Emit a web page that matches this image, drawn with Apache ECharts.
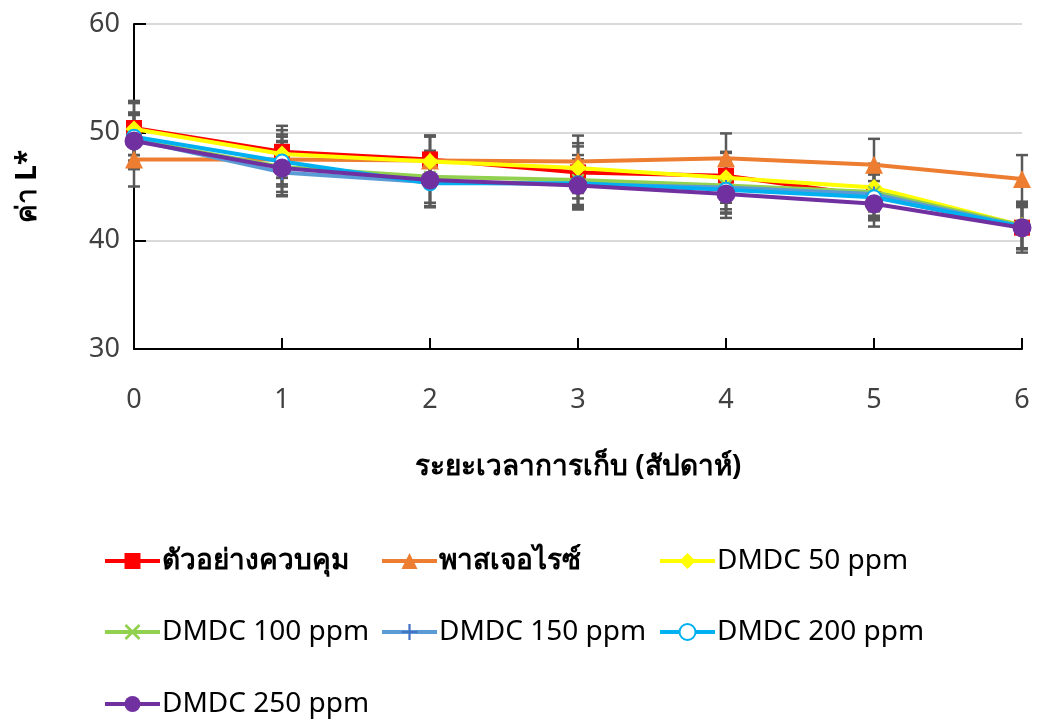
<!DOCTYPE html>
<html><head><meta charset="utf-8">
<script src="https://cdn.jsdelivr.net/npm/echarts@6/dist/echarts.min.js"></script>
<style>html,body{margin:0;padding:0;background:#fff}#c{width:1037px;height:720px}</style>
</head><body><div id="c"></div>
<script>
const weeks = ['0','1','2','3','4','5','6'];
const names = ['ตัวอย่างควบคุม','พาสเจอไรซ์','DMDC 50 ppm','DMDC 100 ppm','DMDC 150 ppm','DMDC 200 ppm','DMDC 250 ppm'];
const control   = [50.4, 48.2, 47.5, 46.3, 46.0, 44.1, 41.2];
const pasteur   = [47.5, 47.5, 47.4, 47.3, 47.6, 47.0, 45.7];
const dmdc50    = [50.3, 48.0, 47.3, 46.7, 45.8, 44.9, 41.4];
const dmdc100   = [49.3, 46.8, 45.9, 45.6, 45.1, 44.5, 41.4];
const dmdc150   = [49.3, 46.3, 45.4, 45.2, 44.9, 44.3, 41.3];
const dmdc200   = [49.6, 47.3, 45.3, 45.3, 44.7, 44.0, 41.3];
const dmdc250   = [49.2, 46.7, 45.6, 45.1, 44.3, 43.4, 41.2];
const errControl = [2.5, 2.4, 2.2, 2.4, 2.2, 2.2, 2.3];
const errPasteur = [2.5, 2.3, 2.3, 2.4, 2.3, 2.4, 2.2];
const err50      = [2.4, 2.2, 2.3, 2.3, 2.3, 2.2, 2.2];
const err100     = [2.5, 2.3, 2.4, 2.3, 2.2, 2.2, 2.1];
const err150     = [2.3, 2.2, 2.3, 2.3, 2.3, 2.2, 2.0];
const err200     = [2.2, 2.3, 2.2, 2.2, 2.2, 2.1, 2.0];
const err250     = [2.6, 2.5, 2.4, 2.2, 2.2, 2.1, 1.9];
const yTicks = [30, 40, 50, 60];

const values = [control, pasteur, dmdc50, dmdc100, dmdc150, dmdc200, dmdc250];
const errs = [errControl, errPasteur, err50, err100, err150, err200, err250];
const colors = ['#FF0000','#ED7D31','#FFFF00','#92D050','#5B9BD5','#00B0F0','#7030A0'];
const symbols = ['rect','triangle','diamond',
  'path://M0,1.2L1.2,0L5,3.8L8.8,0L10,1.2L6.2,5L10,8.8L8.8,10L5,6.2L1.2,10L0,8.8L3.8,5Z',
  'path://M4.3,0H5.7V4.3H10V5.7H5.7V10H4.3V5.7H0V4.3H4.3Z',
  'emptyCircle','circle'];
const symSizes = [16, 18, 17, 13, 15, 14, 19];
const symColor = ['#FF0000','#ED7D31','#FFFF00','#92D050','#4472C4','#00B0F0','#7030A0'];

const FONT = "'Noto Sans', 'DejaVu Sans', sans-serif";

const series = [];
values.forEach((v, i) => {
  series.push({
    name: 'err' + i,
    type: 'custom',
    z: 1,
    silent: true,
    data: v.map((y, k) => [k, y - errs[i][k], y + errs[i][k]]),
    renderItem: function (params, api) {
      const lo = api.coord([api.value(0), api.value(1)]);
      const hi = api.coord([api.value(0), api.value(2)]);
      const w = 6;
      const st = { stroke: '#595959', lineWidth: 2.5 };
      return { type: 'group', children: [
        { type: 'line', shape: { x1: lo[0], y1: lo[1], x2: hi[0], y2: hi[1] }, style: st },
        { type: 'line', shape: { x1: lo[0]-w, y1: lo[1], x2: lo[0]+w, y2: lo[1] }, style: st },
        { type: 'line', shape: { x1: hi[0]-w, y1: hi[1], x2: hi[0]+w, y2: hi[1] }, style: st }
      ]};
    }
  });
});
values.forEach((v, i) => {
  series.push({
    name: names[i],
    type: 'line',
    z: 3 + i,
    data: v,
    symbol: symbols[i],
    symbolSize: symSizes[i],
    showAllSymbol: true,
    lineStyle: { color: colors[i], width: 4 },
    itemStyle: i === 5 ? { color: '#00B0F0', borderWidth: 2.5 } : { color: symColor[i], borderWidth: 0 },
    emphasis: { disabled: true },
    animation: false
  });
});

const legPos = [[103,560],[380,560],[658,560],[103,631],[380,631],[658,631],[103,703]];
const legends = names.map((n, i) => ({
  data: [n],
  left: legPos[i][0], top: legPos[i][1] - 13,
  padding: 0,
  itemWidth: 55, itemHeight: 20, itemGap: 0,
  lineStyle: { width: 4 },
  textStyle: { fontSize: 28, fontWeight: i < 2 ? 'bold' : 'normal', color: '#000', fontFamily: FONT, padding: [0,0,0,-3] },
  selectedMode: false
}));

const option = {
  animation: false,
  backgroundColor: '#fff',
  color: colors,
  legend: legends,
  grid: { left: 134, right: 15, top: 24, bottom: 371, containLabel: false },
  xAxis: {
    type: 'category', data: weeks, boundaryGap: false,
    name: 'ระยะเวลาการเก็บ (สัปดาห์)', nameLocation: 'middle', nameGap: 104,
    nameTextStyle: { fontSize: 28, fontWeight: 'bold', color: '#000', fontFamily: FONT },
    axisLine: { lineStyle: { color: '#000', width: 2 } },
    axisTick: { inside: true, length: 11, alignWithLabel: true, lineStyle: { color: '#000', width: 2 } },
    axisLabel: { fontSize: 27, color: '#404040', margin: 38, fontFamily: FONT },
    splitLine: { show: false }
  },
  yAxis: {
    type: 'value', min: 30, max: 60, interval: 10,
    name: 'ค่า L*', nameLocation: 'middle', nameGap: 92, nameRotate: 90,
    nameTextStyle: { fontSize: 28, fontWeight: 'bold', color: '#000', fontFamily: FONT },
    axisLine: { show: true, lineStyle: { color: '#000', width: 2 } },
    axisTick: { show: true, inside: true, length: 12, lineStyle: { color: '#000', width: 2 } },
    axisLabel: { fontSize: 27, color: '#404040', margin: 14, fontFamily: FONT,
      formatter: v => yTicks.includes(v) ? String(v) : '' },
    splitLine: { show: true, lineStyle: { color: '#D9D9D9', width: 2 } }
  },
  series: series
};
const chart = echarts.init(document.getElementById('c'), null, { renderer: 'canvas' });
chart.setOption(option);
</script></body></html>
